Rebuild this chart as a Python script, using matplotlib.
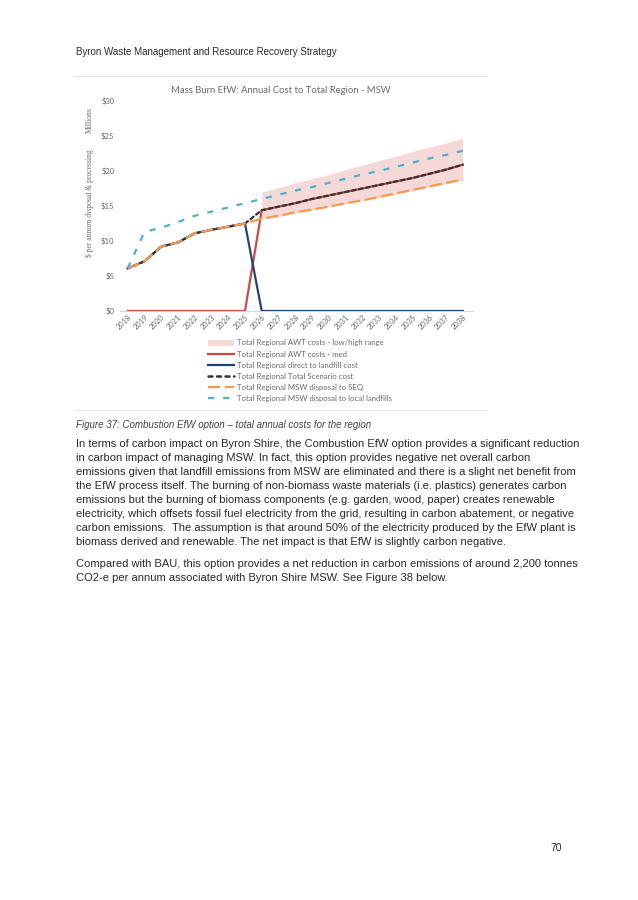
import matplotlib
matplotlib.use("Agg")
import matplotlib.pyplot as plt
import numpy as np
from matplotlib.lines import Line2D
from matplotlib.patches import Patch

# ---------------- data ----------------
years = [str(y) for y in range(2018, 2039)]
awt_med = [0, 0, 0, 0, 0, 0, 0, 0, 14.4, 14.9, 15.4, 16.0, 16.5, 17.0, 17.5, 18.0,
           18.5, 19.0, 19.6, 20.2, 20.9]
awt_low = [None]*8 + [13.1, 13.5, 14.0, 14.4, 14.9, 15.3, 15.8, 16.2, 16.7, 17.2,
                      17.7, 18.2, 18.7]
awt_high = [None]*8 + [17.0, 17.6, 18.3, 18.9, 19.5, 20.2, 20.8, 21.5, 22.1, 22.8,
                       23.4, 24.0, 24.7]
landfill = [6.1, 7.1, 9.2, 9.8, 11.1, 11.6, 12.05, 12.5, 0, 0, 0, 0, 0, 0, 0, 0,
            0, 0, 0, 0, 0]
total = [6.1, 7.1, 9.2, 9.8, 11.1, 11.6, 12.05, 12.5, 14.4, 14.9, 15.4, 16.0, 16.5,
         17.0, 17.5, 18.0, 18.5, 19.0, 19.6, 20.2, 20.9]
seq = [6.1, 7.1, 9.2, 9.8, 11.1, 11.6, 12.05, 12.5, 13.2, 13.6, 14.1, 14.5, 14.9,
       15.4, 15.8, 16.3, 16.8, 17.3, 17.8, 18.3, 18.8]
local_lf = [6.1, 11.3, 11.9, 12.7, 13.6, 14.2, 14.8, 15.4, 16.0, 16.6, 17.2, 17.7,
            18.3, 18.9, 19.5, 20.0, 20.6, 21.2, 21.8, 22.3, 22.9]
yticks = [0, 5, 10, 15, 20, 25, 30]
ytick_labels = ["$0", "$5", "$10", "$15", "$20", "$25", "$30"]
legend_labels = [
    "Total Regional AWT costs - low/high range",
    "Total Regional AWT costs - med",
    "Total Regional direct to landfill cost",
    "Total Regional Total Scenario cost",
    "Total Regional MSW disposal to SEQ",
    "Total Regional MSW disposal to local landfills",
]

# ---------------- page ----------------
W, H = 638, 900
fig = plt.figure(figsize=(W/100, H/100), dpi=100)
fig.patch.set_facecolor("white")

def fx(x):
    return x / W

def fy(y):
    return 1 - y / H

BODY = "Liberation Sans"
CHART = "Lato"
GRAY = "#6a6a6a"
TXT = "#2a2a2a"

fig.text(fx(76), fy(52), "Byron Waste Management and Resource Recovery Strategy",
         family=BODY, size=7.05, color=TXT, va="center", ha="left")
fig.add_artist(Line2D([fx(75), fx(487)], [fy(76), fy(76)], color="#e6e6e6", lw=0.8))
fig.add_artist(Line2D([fx(75), fx(487)], [fy(410), fy(410)], color="#e6e6e6", lw=0.8))

fig.text(fx(281), fy(90.5), "Mass Burn EfW: Annual Cost to Total Region - MSW",
         family=CHART, size=6.8, color=GRAY, va="center", ha="center")

# ---------------- axes ----------------
ax = fig.add_axes([fx(120), fy(311), fx(473) - fx(120), fy(101) - fy(311)])
x = np.arange(len(years))
xb = x[8:]
lo = np.array(awt_low[8:], dtype=float)
hi = np.array(awt_high[8:], dtype=float)
c_band = "#f5d9d8"
ax.fill_between(xb, lo, hi, color=c_band, lw=0, zorder=1)

c_red = "#cc4a44"
c_navy = "#234477"
c_black = "#333333"
c_orange = "#f89a4e"
c_cyan = "#4fb0cc"

ax.plot(x, awt_med, color=c_red, lw=1.6, zorder=2)
ax.plot(x, landfill, color=c_navy, lw=1.6, zorder=3)
ax.plot(x, total, color=c_black, lw=1.6, dashes=(1.7, 1.5), dash_capstyle="round", zorder=4)
ax.plot(x, seq, color=c_orange, lw=1.6, dashes=(5.5, 2.0), zorder=5)
ax.plot(x, local_lf, color=c_cyan, lw=1.6, dashes=(2.8, 4.0), zorder=6)

ax.set_xlim(-0.46, 20.61)
ax.set_ylim(0, 30)
for s in ["top", "right", "left"]:
    ax.spines[s].set_visible(False)
ax.spines["bottom"].set_color("#d9d9d9")
ax.spines["bottom"].set_linewidth(0.8)
ax.set_yticks(yticks)
ax.set_yticklabels(ytick_labels, family=CHART, size=5.5, color=GRAY)
ax.set_xticks(x)
ax.set_xticklabels(years, family=CHART, size=5.4, color=GRAY, rotation=45,
                   ha="right", va="top", rotation_mode="anchor")
ax.tick_params(axis="both", length=0, pad=4)
ax.tick_params(axis="x", pad=2)
ax.patch.set_alpha(0)

fig.text(fx(90), fy(203), "$ per annum disposal & processing", family="Liberation Serif",
         size=5.5, color=GRAY, rotation=90, va="center", ha="center")
fig.text(fx(90), fy(120), "Millions", family="Liberation Serif",
         size=5.5, color=GRAY, rotation=90, va="center", ha="center")

# ---------------- legend ----------------
handles = [
    Patch(facecolor=c_band, edgecolor="none"),
    Line2D([], [], color=c_red, lw=1.6),
    Line2D([], [], color=c_navy, lw=1.6),
    Line2D([], [], color=c_black, lw=1.8, dashes=(1.6, 1.8), dash_capstyle="round"),
    Line2D([], [], color=c_orange, lw=1.6, dashes=(5.5, 2.0)),
    Line2D([], [], color=c_cyan, lw=1.6, dashes=(2.8, 4.0)),
]
leg = fig.legend(handles, legend_labels, loc="upper left",
                 bbox_to_anchor=(fx(208), fy(339.5)), frameon=False,
                 prop={"family": CHART, "size": 5.6}, labelcolor=GRAY,
                 handlelength=3.4, handleheight=0.7, handletextpad=0.35,
                 labelspacing=0.52, borderpad=0.0, borderaxespad=0.0)

# ---------------- body text ----------------
fig.text(fx(76), fy(425), "Figure 37: Combustion EfW option \u2013 total annual costs for the region",
         family=BODY, style="italic", size=7.0, color="#444444", va="center", ha="left")

para1 = [
    "In terms of carbon impact on Byron Shire, the Combustion EfW option provides a significant reduction",
    "in carbon impact of managing MSW. In fact, this option provides negative net overall carbon",
    "emissions given that landfill emissions from MSW are eliminated and there is a slight net benefit from",
    "the EfW process itself. The burning of non-biomass waste materials (i.e. plastics) generates carbon",
    "emissions but the burning of biomass components (e.g. garden, wood, paper) creates renewable",
    "electricity, which offsets fossil fuel electricity from the grid, resulting in carbon abatement, or negative",
    "carbon emissions.  The assumption is that around 50% of the electricity produced by the EfW plant is",
    "biomass derived and renewable. The net impact is that EfW is slightly carbon negative.",
]
para2 = [
    "Compared with BAU, this option provides a net reduction in carbon emissions of around 2,200 tonnes",
    "CO2-e per annum associated with Byron Shire MSW. See Figure 38 below.",
]
for i, line in enumerate(para1):
    fig.text(fx(76), fy(444 + 14 * i), line, family=BODY, size=8.0, color=TXT,
             va="center", ha="left")
for i, line in enumerate(para2):
    fig.text(fx(76), fy(564 + 14 * i), line, family=BODY, size=8.0, color=TXT,
             va="center", ha="left")

fig.text(fx(562), fy(848), "70", family=BODY, size=7.4, color=TXT,
         va="center", ha="right")

fig.savefig("out.png", dpi=100, facecolor="white")
